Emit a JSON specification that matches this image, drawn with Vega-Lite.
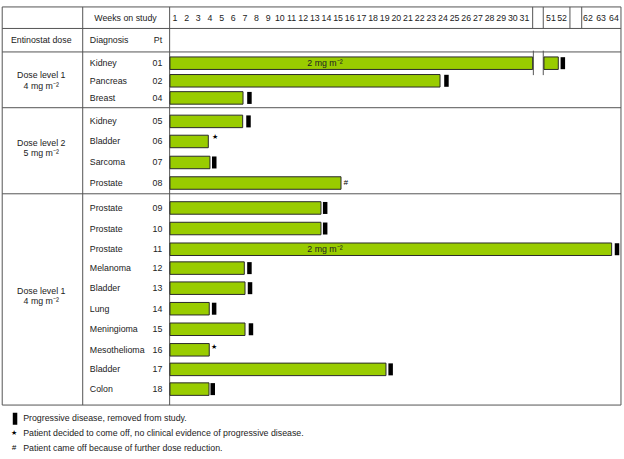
{
  "$schema": "https://vega.github.io/schema/vega-lite/v6.json",
  "width": 624,
  "height": 459,
  "padding": 0,
  "autosize": {"type": "fit", "contains": "padding"},
  "background": "white",
  "view": {"stroke": null},
  "config": {"text": {"font": "Liberation Sans", "fontSize": 8.8, "color": "#222", "baseline": "middle"}},
  "datasets": {
    "hrules": [
      {"row": 0.093, "from": -14.4, "to": 38.71},
      {"row": 1.121, "from": -14.4, "to": 38.71},
      {"row": 2.243, "from": -14.4, "to": 38.71},
      {"row": 4.907, "from": -14.4, "to": 38.71},
      {"row": 9.019, "from": -14.4, "to": 38.71},
      {"row": 19.112, "from": -14.4, "to": 38.71}
    ],
    "vrules": [
      {"week": -14.4, "rowFrom": 0.093, "rowTo": 19.112},
      {"week": -7.49, "rowFrom": 0.093, "rowTo": 19.112},
      {"week": -0.03, "rowFrom": 0.093, "rowTo": 19.112},
      {"week": 38.71, "rowFrom": 0.093, "rowTo": 19.112},
      {"week": 31.13, "rowFrom": 0.093, "rowTo": 1.121},
      {"week": 32.04, "rowFrom": 0.093, "rowTo": 1.121},
      {"week": 34.33, "rowFrom": 0.093, "rowTo": 1.121},
      {"week": 35.34, "rowFrom": 0.093, "rowTo": 1.121},
      {"week": 31.19, "rowFrom": 2.182, "rowTo": 3.35},
      {"week": 32.04, "rowFrom": 2.182, "rowTo": 3.35}
    ],
    "bars": [
      {"pt": "01", "row": 2.78, "start": 0, "end": 31.13},
      {"pt": "01", "row": 2.78, "start": 32.1, "end": 33.33},
      {"pt": "02", "row": 3.621, "start": 0, "end": 23.18},
      {"pt": "04", "row": 4.439, "start": 0, "end": 6.27},
      {"pt": "05", "row": 5.561, "start": 0, "end": 6.24},
      {"pt": "06", "row": 6.519, "start": 0, "end": 3.29},
      {"pt": "07", "row": 7.523, "start": 0, "end": 3.43},
      {"pt": "08", "row": 8.505, "start": 0, "end": 14.68},
      {"pt": "09", "row": 9.696, "start": 0, "end": 12.96},
      {"pt": "10", "row": 10.678, "start": 0, "end": 12.96},
      {"pt": "11", "row": 11.668, "start": 0, "end": 37.91},
      {"pt": "12", "row": 12.57, "start": 0, "end": 6.38},
      {"pt": "13", "row": 13.528, "start": 0, "end": 6.44},
      {"pt": "14", "row": 14.509, "start": 0, "end": 3.37},
      {"pt": "15", "row": 15.491, "start": 0, "end": 6.44},
      {"pt": "16", "row": 16.472, "start": 0, "end": 3.37},
      {"pt": "17", "row": 17.407, "start": 0, "end": 18.54},
      {"pt": "18", "row": 18.35, "start": 0, "end": 3.35}
    ],
    "pd": [
      {"pt": "01", "week": 33.72, "row": 2.78},
      {"pt": "02", "week": 23.73, "row": 3.621},
      {"pt": "04", "week": 6.82, "row": 4.439},
      {"pt": "05", "week": 6.74, "row": 5.561},
      {"pt": "07", "week": 3.8, "row": 7.523},
      {"pt": "09", "week": 13.32, "row": 9.696},
      {"pt": "10", "week": 13.32, "row": 10.678},
      {"pt": "11", "week": 38.37, "row": 11.668},
      {"pt": "12", "week": 6.82, "row": 12.57},
      {"pt": "13", "week": 6.87, "row": 13.528},
      {"pt": "14", "week": 3.79, "row": 14.509},
      {"pt": "15", "week": 6.95, "row": 15.491},
      {"pt": "17", "week": 18.94, "row": 17.407},
      {"pt": "18", "week": 3.67, "row": 18.35},
      {"pt": "legend", "week": -13.3, "row": 19.77}
    ],
    "stars": [
      {"sym": "★", "week": 3.86, "row": 6.31},
      {"sym": "★", "week": 3.8, "row": 16.36},
      {"sym": "★", "week": -13.39, "row": 20.47}
    ],
    "hashes": [
      {"sym": "#", "week": 15.08, "row": 8.505},
      {"sym": "#", "week": -13.39, "row": 21.17}
    ],
    "textLeft": [
      {"label": "Diagnosis", "week": -6.88, "row": 1.682},
      {"label": "Kidney", "week": -6.88, "row": 2.78},
      {"label": "Pancreas", "week": -6.88, "row": 3.621},
      {"label": "Breast", "week": -6.88, "row": 4.439},
      {"label": "Kidney", "week": -6.88, "row": 5.561},
      {"label": "Bladder", "week": -6.88, "row": 6.519},
      {"label": "Sarcoma", "week": -6.88, "row": 7.523},
      {"label": "Prostate", "week": -6.88, "row": 8.505},
      {"label": "Prostate", "week": -6.88, "row": 9.696},
      {"label": "Prostate", "week": -6.88, "row": 10.678},
      {"label": "Prostate", "week": -6.88, "row": 11.668},
      {"label": "Melanoma", "week": -6.88, "row": 12.57},
      {"label": "Bladder", "week": -6.88, "row": 13.528},
      {"label": "Lung", "week": -6.88, "row": 14.509},
      {"label": "Meningioma", "week": -6.88, "row": 15.491},
      {"label": "Mesothelioma", "week": -6.88, "row": 16.472},
      {"label": "Bladder", "week": -6.88, "row": 17.407},
      {"label": "Colon", "week": -6.88, "row": 18.35},
      {"label": "Progressive disease, removed from study.", "week": -12.6, "row": 19.72},
      {"label": "Patient decided to come off, no clinical evidence of progressive disease.", "week": -12.6, "row": 20.47},
      {"label": "Patient came off because of further dose reduction.", "week": -12.6, "row": 21.17}
    ],
    "textCenter": [
      {"label": "Weeks on study", "week": -3.82, "row": 0.607},
      {"label": "Entinostat  dose", "week": -11.05, "row": 1.682},
      {"label": "Pt", "week": -1.03, "row": 1.682},
      {"label": "01", "week": -1.07, "row": 2.78},
      {"label": "02", "week": -1.07, "row": 3.621},
      {"label": "04", "week": -1.07, "row": 4.439},
      {"label": "05", "week": -1.07, "row": 5.561},
      {"label": "06", "week": -1.07, "row": 6.519},
      {"label": "07", "week": -1.07, "row": 7.523},
      {"label": "08", "week": -1.07, "row": 8.505},
      {"label": "09", "week": -1.07, "row": 9.696},
      {"label": "10", "week": -1.07, "row": 10.678},
      {"label": "11", "week": -1.07, "row": 11.668},
      {"label": "12", "week": -1.07, "row": 12.57},
      {"label": "13", "week": -1.07, "row": 13.528},
      {"label": "14", "week": -1.07, "row": 14.509},
      {"label": "15", "week": -1.07, "row": 15.491},
      {"label": "16", "week": -1.07, "row": 16.472},
      {"label": "17", "week": -1.07, "row": 17.407},
      {"label": "18", "week": -1.07, "row": 18.35},
      {"label": "Dose level 1", "week": -11.05, "row": 3.364},
      {"label": "4 mg m⁻²", "week": -11.05, "row": 3.855},
      {"label": "Dose level 2", "week": -11.05, "row": 6.589},
      {"label": "5 mg m⁻²", "week": -11.05, "row": 7.056},
      {"label": "Dose level 1", "week": -11.05, "row": 13.668},
      {"label": "4 mg m⁻²", "week": -11.05, "row": 14.136},
      {"label": "2 mg m⁻²", "week": 13.3, "row": 2.78},
      {"label": "2 mg m⁻²", "week": 13.3, "row": 11.668},
      {"label": "1", "week": 0.43, "row": 0.607},
      {"label": "2", "week": 1.43, "row": 0.607},
      {"label": "3", "week": 2.43, "row": 0.607},
      {"label": "4", "week": 3.43, "row": 0.607},
      {"label": "5", "week": 4.43, "row": 0.607},
      {"label": "6", "week": 5.43, "row": 0.607},
      {"label": "7", "week": 6.43, "row": 0.607},
      {"label": "8", "week": 7.43, "row": 0.607},
      {"label": "9", "week": 8.43, "row": 0.607},
      {"label": "10", "week": 9.43, "row": 0.607},
      {"label": "11", "week": 10.43, "row": 0.607},
      {"label": "12", "week": 11.43, "row": 0.607},
      {"label": "13", "week": 12.43, "row": 0.607},
      {"label": "14", "week": 13.43, "row": 0.607},
      {"label": "15", "week": 14.43, "row": 0.607},
      {"label": "16", "week": 15.43, "row": 0.607},
      {"label": "17", "week": 16.43, "row": 0.607},
      {"label": "18", "week": 17.43, "row": 0.607},
      {"label": "19", "week": 18.43, "row": 0.607},
      {"label": "20", "week": 19.43, "row": 0.607},
      {"label": "21", "week": 20.43, "row": 0.607},
      {"label": "22", "week": 21.43, "row": 0.607},
      {"label": "23", "week": 22.43, "row": 0.607},
      {"label": "24", "week": 23.43, "row": 0.607},
      {"label": "25", "week": 24.43, "row": 0.607},
      {"label": "26", "week": 25.43, "row": 0.607},
      {"label": "27", "week": 26.43, "row": 0.607},
      {"label": "28", "week": 27.43, "row": 0.607},
      {"label": "29", "week": 28.43, "row": 0.607},
      {"label": "30", "week": 29.43, "row": 0.607},
      {"label": "31", "week": 30.43, "row": 0.607},
      {"label": "51", "week": 32.7, "row": 0.607},
      {"label": "52", "week": 33.65, "row": 0.607},
      {"label": "62", "week": 35.88, "row": 0.607},
      {"label": "63", "week": 37.0, "row": 0.607},
      {"label": "64", "week": 38.11, "row": 0.607}
    ]
  },
  "layer": [
    {
      "data": {"name": "hrules"},
      "mark": {"type": "rule", "color": "#555", "strokeWidth": 1},
      "encoding": {
        "x": {"field": "from", "type": "quantitative", "scale": {"domain": [-14.59, 38.97], "nice": false, "zero": false}, "axis": null},
        "x2": {"field": "to"},
        "y": {"field": "row", "type": "quantitative", "scale": {"domain": [0, 21.45], "reverse": true, "nice": false, "zero": false}, "axis": null}
      }
    },
    {
      "data": {"name": "vrules"},
      "mark": {"type": "rule", "color": "#555", "strokeWidth": 1},
      "encoding": {
        "x": {"field": "week", "type": "quantitative", "axis": null},
        "y": {"field": "rowFrom", "type": "quantitative", "axis": null},
        "y2": {"field": "rowTo"}
      }
    },
    {
      "data": {"name": "bars"},
      "mark": {"type": "bar", "orient": "horizontal", "size": 12.5, "fill": "#99cc00", "stroke": "#2a2a2a", "strokeWidth": 1, "opacity": 1},
      "encoding": {
        "x": {"field": "start", "type": "quantitative", "axis": null},
        "x2": {"field": "end"},
        "y": {"field": "row", "type": "quantitative", "axis": null}
      }
    },
    {
      "data": {"name": "pd"},
      "mark": {"type": "tick", "orient": "vertical", "size": 12, "thickness": 4.5, "color": "#000", "opacity": 1},
      "encoding": {
        "x": {"field": "week", "type": "quantitative", "axis": null},
        "y": {"field": "row", "type": "quantitative", "axis": null}
      }
    },
    {
      "data": {"name": "stars"},
      "mark": {"type": "text", "fontSize": 7, "align": "center", "color": "#000"},
      "encoding": {
        "x": {"field": "week", "type": "quantitative", "axis": null},
        "y": {"field": "row", "type": "quantitative", "axis": null},
        "text": {"field": "sym"}
      }
    },
    {
      "data": {"name": "hashes"},
      "mark": {"type": "text", "fontSize": 8, "fontStyle": "italic", "align": "center", "color": "#000"},
      "encoding": {
        "x": {"field": "week", "type": "quantitative", "axis": null},
        "y": {"field": "row", "type": "quantitative", "axis": null},
        "text": {"field": "sym"}
      }
    },
    {
      "data": {"name": "textLeft"},
      "mark": {"type": "text", "align": "left"},
      "encoding": {
        "x": {"field": "week", "type": "quantitative", "axis": null},
        "y": {"field": "row", "type": "quantitative", "axis": null},
        "text": {"field": "label"}
      }
    },
    {
      "data": {"name": "textCenter"},
      "mark": {"type": "text", "align": "center"},
      "encoding": {
        "x": {"field": "week", "type": "quantitative", "axis": null},
        "y": {"field": "row", "type": "quantitative", "axis": null},
        "text": {"field": "label"}
      }
    }
  ]
}
